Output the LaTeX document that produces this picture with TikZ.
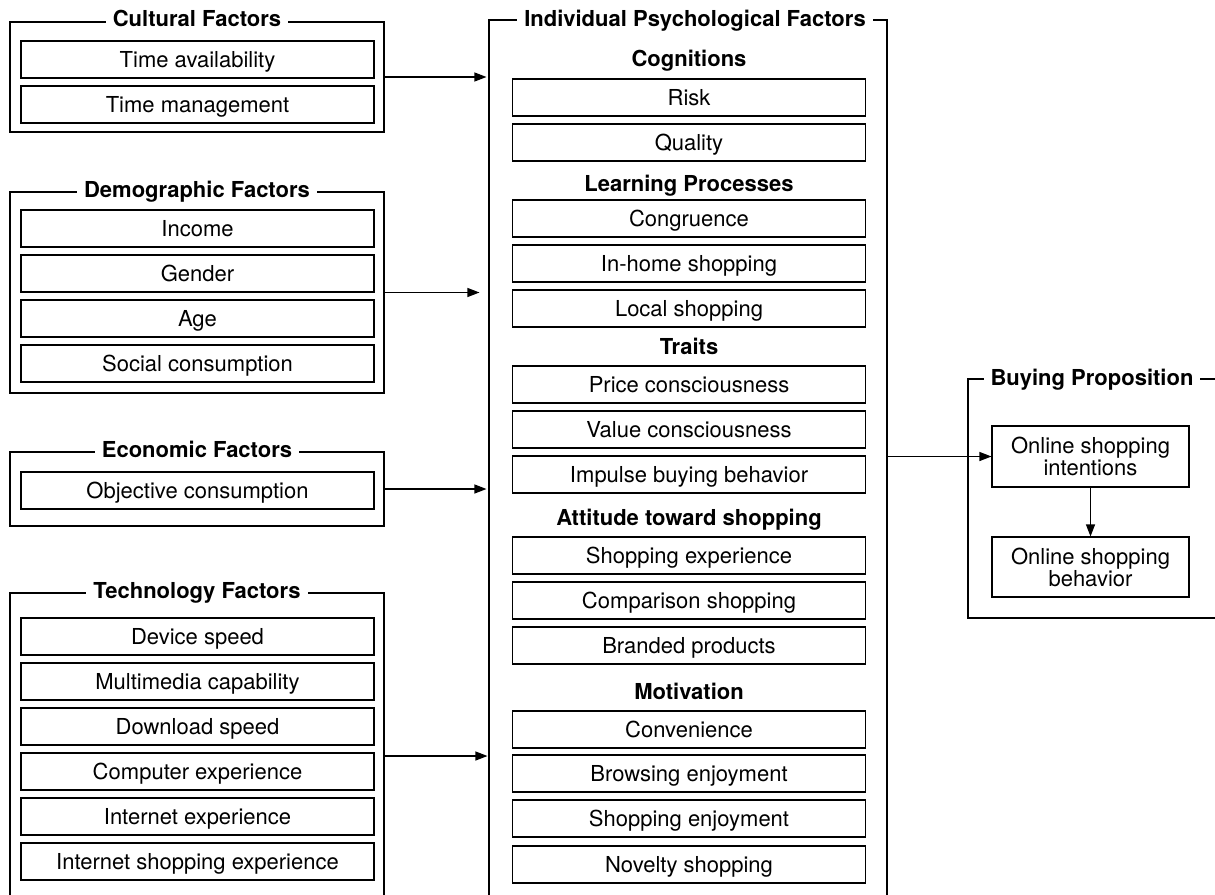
\documentclass[tikz,border=0pt]{standalone}
\usepackage{fontspec}
\setmainfont{TeX Gyre Heros}
\usetikzlibrary{arrows.meta}
\begin{document}
\begin{tikzpicture}[x=1pt, y=-1pt, line width=1.1pt,
  every node/.style={font=\fontsize{22}{22}\selectfont},
  item/.style={draw, minimum width=353pt, minimum height=37pt, inner sep=0pt, text height=20pt, text depth=4pt},
  group/.style={draw, minimum width=374pt, inner sep=0pt},
  grouptitle/.style={fill=white, anchor=base, inner xsep=7pt, inner ysep=1pt, font=\fontsize{22}{22}\selectfont\bfseries},
  head/.style={anchor=base, font=\fontsize{22}{22}\selectfont\bfseries},
  link/.style={-{Triangle[length=12pt,width=9pt]}}]
\useasboundingbox (0,0) rectangle (1215,894);
\clip (0,0) rectangle (1215,894);
% left column
\node[group, minimum height=110pt] (cult) at (197,77) {};
\node[grouptitle] (culttitle) at (197,27) {Cultural Factors};
\node[item] (avail) at (197.5,59.5) {Time availability};
\node[item] (manage) at (197.5,104.5) {Time management};
\node[group, minimum height=201pt] (demo) at (197,292.5) {};
\node[grouptitle] (demotitle) at (197,197) {Demographic Factors};
\node[item] (income) at (197.5,228.5) {Income};
\node[item] (gender) at (197.5,273.5) {Gender};
\node[item] (age) at (197.5,318.5) {Age};
\node[item] (social) at (197.5,363.5) {Social consumption};
\node[group, minimum height=74pt] (econ) at (197,489) {};
\node[grouptitle] (econtitle) at (197,457) {Economic Factors};
\node[item] (objective) at (197.5,490.5) {Objective consumption};
\node[group, minimum height=326pt] (tech) at (197,756) {};
\node[grouptitle] (techtitle) at (197,598) {Technology Factors};
\node[item] (device) at (197.5,636.5) {Device speed};
\node[item] (multimedia) at (197.5,681.5) {Multimedia capability};
\node[item] (download) at (197.5,726.5) {Download speed};
\node[item] (computer) at (197.5,771.5) {Computer experience};
\node[item] (internet) at (197.5,816.5) {Internet experience};
\node[item] (netshop) at (197.5,861.5) {Internet shopping experience};
% middle column
\node[draw, minimum width=398pt, minimum height=876pt, inner sep=0pt] (ipf) at (688,458) {};
\node[grouptitle] (ipftitle) at (695,26) {Individual Psychological Factors};
\node[head] (cog) at (689,66) {Cognitions};
\node[item] (risk) at (689,97.5) {Risk};
\node[item] (quality) at (689,142.5) {Quality};
\node[head] (learn) at (689,191) {Learning Processes};
\node[item] (congruence) at (689,218.5) {Congruence};
\node[item] (inhome) at (689,263.5) {In-home shopping};
\node[item] (local) at (689,308.5) {Local shopping};
\node[head] (traits) at (689,354) {Traits};
\node[item] (price) at (689,384.5) {Price consciousness};
\node[item] (value) at (689,429.5) {Value consciousness};
\node[item] (impulse) at (689,474.5) {Impulse buying behavior};
\node[head] (attitude) at (689,525) {Attitude toward shopping};
\node[item] (experience) at (689,555.5) {Shopping experience};
\node[item] (comparison) at (689,600.5) {Comparison shopping};
\node[item] (branded) at (689,645.5) {Branded products};
\node[head] (motiv) at (689,699) {Motivation};
\node[item] (convenience) at (689,729.5) {Convenience};
\node[item] (browsing) at (689,773.5) {Browsing enjoyment};
\node[item] (enjoyment) at (689,818.5) {Shopping enjoyment};
\node[item] (novelty) at (689,864.5) {Novelty shopping};
% right column
\node[draw, minimum width=248pt, minimum height=239pt, inner sep=0pt] (buy) at (1092,498.5) {};
\node[grouptitle] (buytitle) at (1092,385) {Buying Proposition};
\node[draw, align=center, minimum width=197pt, minimum height=61pt, inner sep=0pt] (intent) at (1090.5,456.5) {Online shopping\\intentions};
\node[draw, align=center, minimum width=197pt, minimum height=60pt, inner sep=0pt] (behave) at (1090.5,567) {Online shopping\\behavior};
% arrows
\draw[link, shorten >=2pt] (cult.east) -- (cult.east -| ipf.west);
\draw[link, shorten >=9pt] (demo.east) -- (demo.east -| ipf.west);
\draw[link, shorten >=2pt] (econ.east) -- (econ.east -| ipf.west);
\draw[link, shorten >=1pt] (tech.east) -- (tech.east -| ipf.west);
\draw[link] (ipf.east |- intent.west) -- (intent.west);
\draw[link] (intent) -- (behave);
\end{tikzpicture}
\end{document}
